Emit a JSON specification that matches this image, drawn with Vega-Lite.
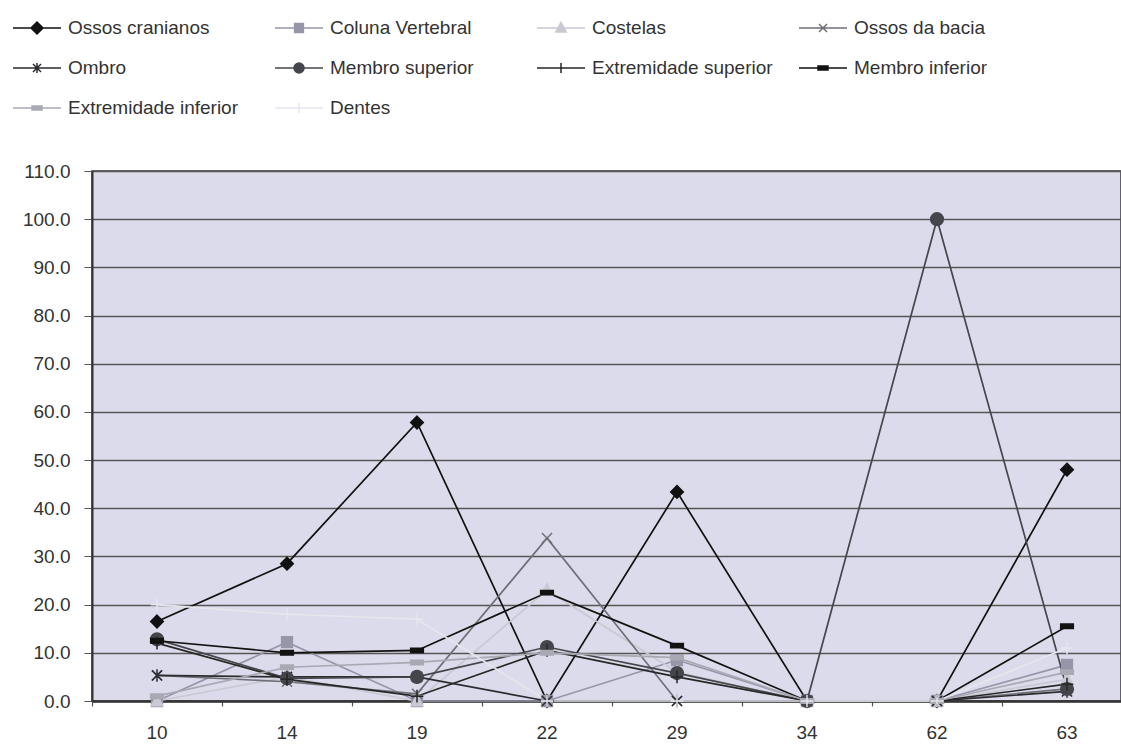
{
  "$schema": "https://vega.github.io/schema/vega-lite/v6.json",
  "width": 1029,
  "height": 530,
  "autosize": {"type": "none"},
  "padding": {"left": 92, "top": 171, "right": 0, "bottom": 43},
  "background": "white",
  "config": {
    "font": "Liberation Sans",
    "view": {"fill": "#dcdbeb", "stroke": "#3a3a3a", "strokeWidth": 1.5},
    "axis": {"labelFont": "Liberation Sans", "labelFontSize": 19, "labelColor": "#333333"}
  },
  "data": {
    "values": [
      {"x": 10, "serie": "Ossos cranianos", "v": 16.5},
      {"x": 14, "serie": "Ossos cranianos", "v": 28.5},
      {"x": 19, "serie": "Ossos cranianos", "v": 57.8},
      {"x": 22, "serie": "Ossos cranianos", "v": 0},
      {"x": 29, "serie": "Ossos cranianos", "v": 43.4},
      {"x": 34, "serie": "Ossos cranianos", "v": 0},
      {"x": 62, "serie": "Ossos cranianos", "v": 0},
      {"x": 63, "serie": "Ossos cranianos", "v": 48.0},
      {"x": 10, "serie": "Coluna Vertebral", "v": 0},
      {"x": 14, "serie": "Coluna Vertebral", "v": 12.2},
      {"x": 19, "serie": "Coluna Vertebral", "v": 0},
      {"x": 22, "serie": "Coluna Vertebral", "v": 0},
      {"x": 29, "serie": "Coluna Vertebral", "v": 8.5},
      {"x": 34, "serie": "Coluna Vertebral", "v": 0},
      {"x": 62, "serie": "Coluna Vertebral", "v": 0},
      {"x": 63, "serie": "Coluna Vertebral", "v": 7.5},
      {"x": 10, "serie": "Costelas", "v": 0},
      {"x": 14, "serie": "Costelas", "v": 5},
      {"x": 19, "serie": "Costelas", "v": 0},
      {"x": 22, "serie": "Costelas", "v": 23},
      {"x": 29, "serie": "Costelas", "v": 6},
      {"x": 34, "serie": "Costelas", "v": 0},
      {"x": 62, "serie": "Costelas", "v": 0},
      {"x": 63, "serie": "Costelas", "v": 4.5},
      {"x": 10, "serie": "Ossos da bacia", "v": 5.3},
      {"x": 14, "serie": "Ossos da bacia", "v": 4},
      {"x": 19, "serie": "Ossos da bacia", "v": 1.5},
      {"x": 22, "serie": "Ossos da bacia", "v": 33.8},
      {"x": 29, "serie": "Ossos da bacia", "v": 0},
      {"x": 34, "serie": "Ossos da bacia", "v": 0},
      {"x": 62, "serie": "Ossos da bacia", "v": 0},
      {"x": 63, "serie": "Ossos da bacia", "v": 2.5},
      {"x": 10, "serie": "Ombro", "v": 5.3},
      {"x": 14, "serie": "Ombro", "v": 5},
      {"x": 19, "serie": "Ombro", "v": 5},
      {"x": 22, "serie": "Ombro", "v": 0},
      {"x": 29, "serie": "Ombro", "v": 0},
      {"x": 34, "serie": "Ombro", "v": 0},
      {"x": 62, "serie": "Ombro", "v": 0},
      {"x": 63, "serie": "Ombro", "v": 2},
      {"x": 10, "serie": "Membro superior", "v": 12.8},
      {"x": 14, "serie": "Membro superior", "v": 4.7},
      {"x": 19, "serie": "Membro superior", "v": 5},
      {"x": 22, "serie": "Membro superior", "v": 11.2},
      {"x": 29, "serie": "Membro superior", "v": 5.8},
      {"x": 34, "serie": "Membro superior", "v": 0},
      {"x": 62, "serie": "Membro superior", "v": 100},
      {"x": 63, "serie": "Membro superior", "v": 2.5},
      {"x": 10, "serie": "Extremidade superior", "v": 12},
      {"x": 14, "serie": "Extremidade superior", "v": 4.5},
      {"x": 19, "serie": "Extremidade superior", "v": 1},
      {"x": 22, "serie": "Extremidade superior", "v": 10.5},
      {"x": 29, "serie": "Extremidade superior", "v": 5},
      {"x": 34, "serie": "Extremidade superior", "v": 0},
      {"x": 62, "serie": "Extremidade superior", "v": 0},
      {"x": 63, "serie": "Extremidade superior", "v": 3.5},
      {"x": 10, "serie": "Membro inferior", "v": 12.5},
      {"x": 14, "serie": "Membro inferior", "v": 10},
      {"x": 19, "serie": "Membro inferior", "v": 10.5},
      {"x": 22, "serie": "Membro inferior", "v": 22.5},
      {"x": 29, "serie": "Membro inferior", "v": 11.5},
      {"x": 34, "serie": "Membro inferior", "v": 0},
      {"x": 62, "serie": "Membro inferior", "v": 0},
      {"x": 63, "serie": "Membro inferior", "v": 15.5},
      {"x": 10, "serie": "Extremidade inferior", "v": 1},
      {"x": 14, "serie": "Extremidade inferior", "v": 7},
      {"x": 19, "serie": "Extremidade inferior", "v": 8},
      {"x": 22, "serie": "Extremidade inferior", "v": 10},
      {"x": 29, "serie": "Extremidade inferior", "v": 9},
      {"x": 34, "serie": "Extremidade inferior", "v": 0},
      {"x": 62, "serie": "Extremidade inferior", "v": 0},
      {"x": 63, "serie": "Extremidade inferior", "v": 6},
      {"x": 10, "serie": "Dentes", "v": 20},
      {"x": 14, "serie": "Dentes", "v": 18},
      {"x": 19, "serie": "Dentes", "v": 17},
      {"x": 22, "serie": "Dentes", "v": 0},
      {"x": 29, "serie": "Dentes", "v": 0},
      {"x": 34, "serie": "Dentes", "v": 0},
      {"x": 62, "serie": "Dentes", "v": 0},
      {"x": 63, "serie": "Dentes", "v": 11}
    ]
  },
  "layer": [
    {
      "mark": {"type": "line", "strokeWidth": 1.7},
      "encoding": {
        "x": {"field": "x", "type": "ordinal",
          "scale": {"type": "band", "domain": [10, 14, 19, 22, 29, 34, 62, 63], "range": [0, 1040], "paddingInner": 0, "paddingOuter": 0},
          "axis": {"title": null, "orient": "bottom", "labels": false, "ticks": true, "tickSize": 5, "tickColor": "#555555", "tickWidth": 1.2, "bandPosition": 0, "domain": false, "grid": false}},
        "y": {"field": "v", "type": "quantitative", "scale": {"domain": [0, 110], "nice": false, "zero": true},
          "axis": {"title": null, "values": [0, 10, 20, 30, 40, 50, 60, 70, 80, 90, 100, 110], "format": ".1f", "grid": true, "gridColor": "#555555", "gridWidth": 1.3, "domainColor": "#333333", "domainWidth": 2, "tickColor": "#555555", "tickSize": 8, "labelPadding": 14, "labelFontSize": 19}},
        "color": {"field": "serie", "type": "nominal",
          "scale": {"domain": ["Ossos cranianos", "Coluna Vertebral", "Costelas", "Ossos da bacia", "Ombro", "Membro superior", "Extremidade superior", "Membro inferior", "Extremidade inferior", "Dentes"],
            "range": ["#111111", "#9795a8", "#c9c9d3", "#6f6f78", "#2b2b30", "#45454c", "#262626", "#121212", "#a9a9b4", "#e6e6ee"]},
          "legend": {"orient": "none", "direction": "horizontal", "legendX": -76, "legendY": -164, "columns": 4, "gridAlign": "all", "columnPadding": 23, "rowPadding": 9, "symbolSize": 1600, "symbolStrokeWidth": 1.5, "labelOffset": 10, "labelFontSize": 19, "labelFont": "Liberation Sans", "labelColor": "#333333", "labelLimit": 400, "title": null, "padding": 0,
            "encode": {"symbols": {"update": {
              "shape": {"signal": "{'Ossos cranianos':'M-1.2,0H1.2M0,-0.3L0.3,0L0,0.3L-0.3,0Z','Coluna Vertebral':'M-1.2,0H1.2M-0.22,-0.22H0.22V0.22H-0.22Z','Costelas':'M-1.2,0H1.2M0,-0.28L0.26,0.2H-0.26Z','Ossos da bacia':'M-1.2,0H1.2M-0.2,-0.2L0.2,0.2M-0.2,0.2L0.2,-0.2','Ombro':'M-1.2,0H1.2M-0.2,-0.2L0.2,0.2M-0.2,0.2L0.2,-0.2M0,-0.25V0.25','Membro superior':'M-1.2,0H1.2M0.25,0A0.25,0.25,0,1,1,-0.25,0A0.25,0.25,0,1,1,0.25,0Z','Extremidade superior':'M-1.2,0H1.2M0,-0.25V0.25','Membro inferior':'M-1.2,0H1.2M-0.25,-0.1H0.25V0.1H-0.25Z','Extremidade inferior':'M-1.2,0H1.2M-0.25,-0.1H0.25V0.1H-0.25Z','Dentes':'M-1.2,0H1.2M0,-0.25V0.25'}[datum.value]"},
              "stroke": {"signal": "scale('color', datum.value)"},
              "fill": {"signal": "scale('color', datum.value)"},
              "strokeWidth": {"value": 1.5}
            }}}}
        }
      }
    },
    {
      "mark": {"type": "point", "filled": true, "size": 160, "opacity": 1, "strokeWidth": 1.5,
        "stroke": {"expr": "scale('color', datum.serie)"},
        "shape": {"expr": "{'Ossos cranianos':'M0,-1L1,0L0,1L-1,0Z','Coluna Vertebral':'M-0.85,-0.85H0.85V0.85H-0.85Z','Costelas':'M0,-1L0.9,0.75H-0.9Z','Ossos da bacia':'M-0.8,-0.8L0.8,0.8M-0.8,0.8L0.8,-0.8','Ombro':'M-0.8,-0.8L0.8,0.8M-0.8,0.8L0.8,-0.8M0,-1V1','Membro superior':'circle','Extremidade superior':'M-1,0H1M0,-1V1','Membro inferior':'M-1,-0.35H1V0.35H-1Z','Extremidade inferior':'M-1,-0.35H1V0.35H-1Z','Dentes':'M-1,0H1M0,-1V1'}[datum.serie]"}},
      "encoding": {
        "x": {"field": "x", "type": "ordinal",
          "axis": {"title": null, "orient": "bottom", "labelAngle": 0, "ticks": false, "grid": false, "domainColor": "#333333", "domainWidth": 2.5, "labelPadding": 22, "labelFontSize": 19}},
        "y": {"field": "v", "type": "quantitative"},
        "color": {"field": "serie", "type": "nominal"}
      }
    }
  ],
  "resolve": {"axis": {"x": "independent"}}
}
